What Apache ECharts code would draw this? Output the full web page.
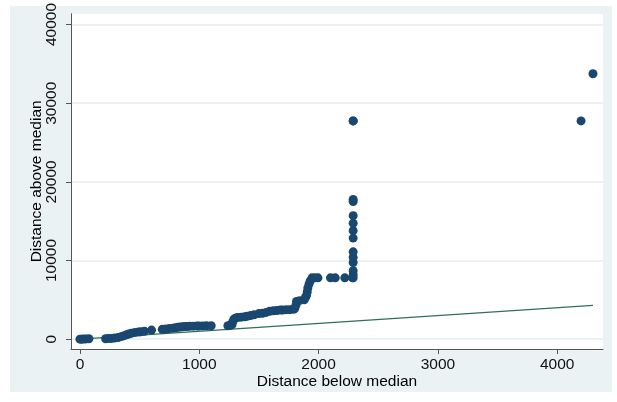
<!DOCTYPE html>
<html>
<head>
<meta charset="utf-8">
<script src="https://cdn.jsdelivr.net/npm/echarts@6/dist/echarts.min.js"></script>
<style>
html,body{margin:0;padding:0;background:#fff;}
#c{width:617px;height:402px;}
</style>
</head>
<body>
<div id="c"></div>
<script>
// Distance below median (x) and distance above median (y)
var belowMedian = [0,15,30,50,75,215,240,265,290,320,350,370,390,410,430,460,490,510,540,600,
  690,720,750,780,800,820,840,860,880,900,920,950,980,1000,1030,1060,1100,
  1240,1260,1275,1280,1290,1300,1320,1350,1380,1400,1430,1460,1500,1530,1560,1590,1620,1650,1680,1700,1730,1760,1790,
  1800,1810,1815,1840,1880,1890,1900,1905,1910,1920,1930,1945,1970,1995,2100,2140,2220,2285,
  2290,2290,2290,2290,2290,2290,2290,2290,2290,2290,2290,2290,2290,2290,4200,4300];
var aboveMedian = [0,0,20,30,50,60,80,100,150,200,350,450,550,650,750,850,900,950,1000,1150,
  1250,1300,1350,1400,1450,1500,1550,1580,1600,1620,1640,1650,1660,1680,1690,1700,1700,
  1700,1750,1850,2200,2500,2650,2750,2800,2850,2900,3000,3100,3250,3300,3400,3550,3600,3650,3700,3700,3750,3750,3800,
  3900,4300,4800,4900,5000,5300,5600,6000,6500,7000,7400,7800,7800,7800,7800,7800,7800,7800,
  7800,8200,8700,9750,10400,11100,12850,13800,14750,15700,17500,17750,27750,27750,27750,33750];
var xTicks = [0,1000,2000,3000,4000];
var yTicks = [0,10000,20000,30000,40000];

var points = belowMedian.map(function(v,i){return [v, aboveMedian[i]];});
var lo = Math.min.apply(null, belowMedian), hi = Math.max.apply(null, belowMedian);
var refLine = [[lo, lo],[hi, hi]];

var chart = echarts.init(document.getElementById('c'), null, {renderer:'canvas'});
var font = '"Liberation Sans", Arial, sans-serif';
var plain = function(v){return String(v);};
chart.setOption({
  backgroundColor: '#ffffff',
  animation: false,
  graphic: [{
    type: 'rect', z: -10, silent: true,
    shape: {x: 10, y: 6, width: 602, height: 386},
    style: {fill: '#eaf2f3'}
  }],
  grid: {left: 71, right: 14, top: 7, bottom: 53, show: true, backgroundColor: '#ffffff', borderWidth: 0},
  xAxis: {
    type: 'value', min: -75, max: 4384,
    name: 'Distance below median', nameLocation: 'middle', nameGap: 25, nameMoveOverlap: false,
    nameTextStyle: {fontFamily: font, fontSize: 15.5, color: '#000'},
    axisLine: {show: true, onZero: false, lineStyle: {color: '#555', width: 1}},
    axisTick: {show: true, length: 5, customValues: xTicks, lineStyle: {color: '#555'}},
    axisLabel: {customValues: xTicks, margin: 8, fontFamily: font, fontSize: 15.5, color: '#111', formatter: plain},
    splitLine: {show: false}
  },
  yAxis: {
    type: 'value', min: -1250, max: 41375,
    name: 'Distance above median', nameLocation: 'middle', nameGap: 26, nameMoveOverlap: false,
    nameTextStyle: {fontFamily: font, fontSize: 15.5, color: '#000'},
    axisLine: {show: true, onZero: false, lineStyle: {color: '#555', width: 1}},
    axisTick: {show: true, length: 5, customValues: yTicks, lineStyle: {color: '#555'}},
    axisLabel: {customValues: yTicks, rotate: 90, margin: 11, fontFamily: font, fontSize: 15.5, color: '#111', formatter: plain},
    splitLine: {show: true, lineStyle: {color: '#e6eef0', width: 1.5}}
  },
  series: [{
    type: 'line', data: refLine, symbol: 'none', z: 3,
    lineStyle: {color: '#2f6e5e', width: 1.3}
  },{
    type: 'scatter', data: points, symbol: 'circle', symbolSize: 9, z: 4,
    itemStyle: {color: '#1a476f', opacity: 1}
  }]
});
</script>
</body>
</html>
